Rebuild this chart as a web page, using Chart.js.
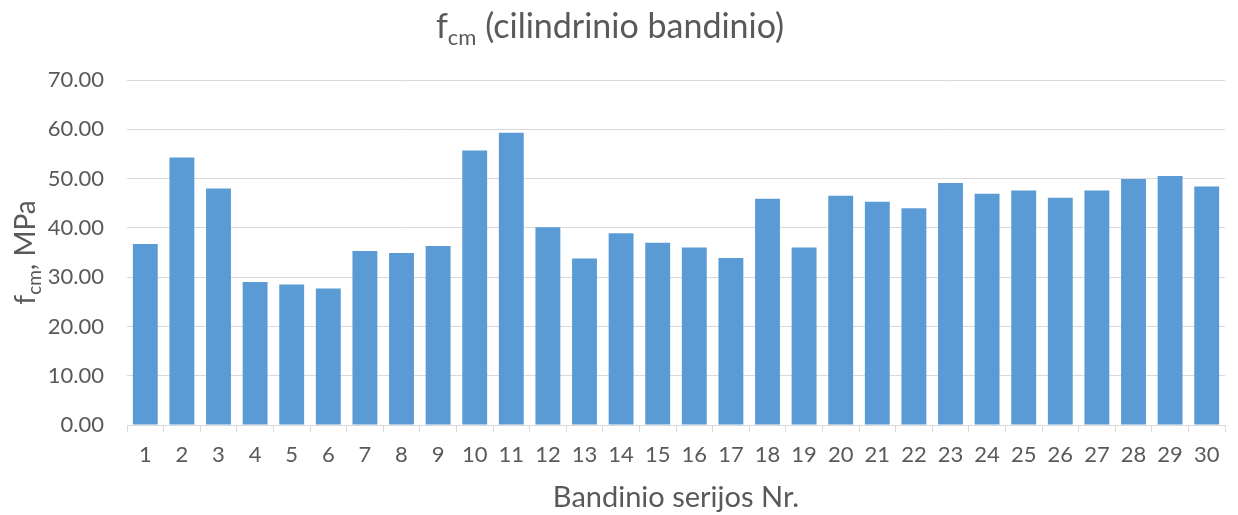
<!DOCTYPE html>
<html>
<head>
<meta charset="utf-8">
<script src="https://cdn.jsdelivr.net/npm/chart.js@4/dist/chart.umd.min.js"></script>
<style>
  html, body { margin: 0; padding: 0; background: #ffffff; }
  #wrap { width: 1238px; height: 515px; }
</style>
</head>
<body>
<div id="wrap"><canvas id="c" width="1238" height="515"></canvas></div>
<script>
// Sample series numbers
const categories = ['1','2','3','4','5','6','7','8','9','10','11','12','13','14','15',
                    '16','17','18','19','20','21','22','23','24','25','26','27','28','29','30'];
// Mean cylinder compressive strength, MPa
const fcmValues = [36.7, 54.3, 48.0, 29.0, 28.5, 27.7, 35.3, 34.9, 36.3, 55.7,
                   59.3, 40.1, 33.8, 38.9, 37.0, 36.0, 33.9, 45.9, 36.0, 46.5,
                   45.3, 44.0, 49.1, 46.9, 47.6, 46.1, 47.6, 49.9, 50.5, 48.4];
const yTicks = [0, 10, 20, 30, 40, 50, 60, 70];

const FONT = 'Lato, "Open Sans", sans-serif';
const TEXT = '#595959';
const GRID = '#d9d9d9';

// Draws text made of [string, isSubscript] runs, centred horizontally on cx, baseline at by
function drawRuns(ctx, runs, cx, by, size, subSize, subDrop) {
  let total = 0;
  const widths = runs.map(([s, sub]) => {
    ctx.font = (sub ? subSize : size) + 'px ' + FONT;
    const w = ctx.measureText(s).width;
    total += w;
    return w;
  });
  let x = cx - total / 2;
  runs.forEach(([s, sub], i) => {
    ctx.font = (sub ? subSize : size) + 'px ' + FONT;
    ctx.fillText(s, x, by + (sub ? subDrop : 0));
    x += widths[i];
  });
}

const titlesPlugin = {
  id: 'titles',
  afterDraw(chart) {
    const ctx = chart.ctx;
    ctx.save();
    ctx.fillStyle = TEXT;
    ctx.textAlign = 'left';
    ctx.textBaseline = 'alphabetic';
    // chart title
    drawRuns(ctx, [['f', false], ['cm', true], [' (cilindrinio bandinio)', false]],
             610, 38, 34, 22, 7);
    // value axis title, rotated and centred on the plot area
    const area = chart.chartArea;
    ctx.translate(35, (area.top + area.bottom) / 2);
    ctx.rotate(-Math.PI / 2);
    drawRuns(ctx, [['f', false], ['cm', true], [', MPa', false]], 0, 0, 28, 19, 6);
    ctx.restore();
  }
};

new Chart(document.getElementById('c'), {
  type: 'bar',
  data: {
    labels: categories,
    datasets: [{
      data: fcmValues,
      backgroundColor: '#5b9bd5',
      borderWidth: 0,
      barPercentage: 0.68,
      categoryPercentage: 1.0
    }]
  },
  options: {
    responsive: false,
    animation: false,
    devicePixelRatio: 1,
    layout: { padding: { left: 0, right: 13, top: 80, bottom: 0 } },
    plugins: {
      legend: { display: false },
      title: { display: false },
      tooltip: { enabled: false }
    },
    scales: {
      x: {
        afterFit(scale) { scale.height = 90; },
        grid: {
          display: true,
          drawOnChartArea: false,
          drawTicks: true,
          tickLength: 7,
          color: GRID,
          offset: true
        },
        border: { display: true, color: GRID, width: 1 },
        ticks: {
          color: TEXT,
          font: { family: FONT, size: 22 },
          padding: 10,
          maxRotation: 0,
          autoSkip: false
        },
        title: {
          display: true,
          text: 'Bandinio serijos Nr.',
          color: TEXT,
          font: { family: FONT, size: 29 },
          padding: { top: 0, bottom: 0 }
        }
      },
      y: {
        afterFit(scale) { scale.width = 127; },
        min: 0,
        max: 70,
        afterBuildTicks(scale) { scale.ticks = yTicks.map(v => ({ value: v })); },
        grid: { color: GRID, drawTicks: false, lineWidth: 1 },
        border: { display: false },
        ticks: {
          color: TEXT,
          font: { family: FONT, size: 22 },
          padding: 23,
          callback: v => Number(v).toFixed(2)
        }
      }
    }
  },
  plugins: [titlesPlugin]
});
</script>
</body>
</html>
